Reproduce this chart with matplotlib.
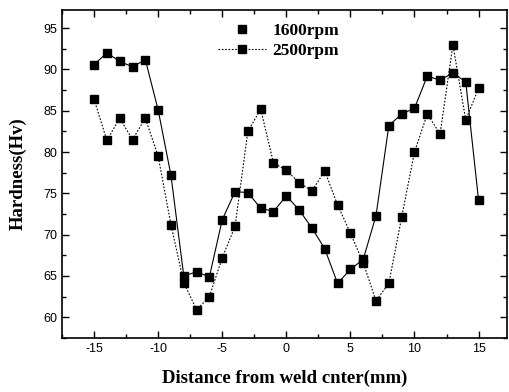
import matplotlib
matplotlib.use("Agg")
import matplotlib.pyplot as plt
from matplotlib.lines import Line2D
from matplotlib.ticker import MultipleLocator

plt.rcParams["axes.unicode_minus"] = False

# distance from weld centre (mm)
distance = list(range(-15, 16))

# hardness (Hv)
hv_1600 = [90.6, 92.0, 91.0, 90.3, 91.2, 85.1, 77.2, 65.0, 65.5, 64.9,
           71.8, 75.2, 75.1, 73.2, 72.8, 74.7, 73.0, 70.8, 68.3, 64.1,
           65.8, 67.0, 72.3, 83.2, 84.6, 85.3, 89.2, 88.7, 89.6, 88.5,
           74.2]
hv_2500 = [86.4, 81.4, 84.1, 81.5, 84.1, 79.5, 71.2, 64.2, 60.9, 62.5,
           67.2, 71.0, 82.5, 85.2, 78.7, 77.8, 76.3, 75.3, 77.7, 73.6,
           70.2, 66.6, 62.0, 64.1, 72.1, 80.0, 84.6, 82.2, 93.0, 83.9,
           87.7]

labels = ["1600rpm", "2500rpm"]

fig = plt.figure(figsize=(5.10, 3.92), dpi=100)
ax = fig.add_axes([0.1216, 0.138, 0.872, 0.8365])

ax.plot(distance, hv_1600, color="black", linewidth=0.8, linestyle="-",
        marker="s", markersize=6.2)
ax.plot(distance, hv_2500, color="black", linewidth=0.8, linestyle=(0, (1.5, 1.5)),
        marker="s", markersize=6.2)

ax.set_xlim(-17.5, 17.2)
ax.set_ylim(57.5, 97.2)
ax.xaxis.set_major_locator(MultipleLocator(5))
ax.xaxis.set_minor_locator(MultipleLocator(2.5))
ax.yaxis.set_major_locator(MultipleLocator(5))
ax.yaxis.set_minor_locator(MultipleLocator(2.5))
ax.tick_params(which="both", direction="in", top=True, right=True,
               labeltop=False, labelright=False, width=1.0)
ax.tick_params(which="major", length=5, labelsize=9)
ax.tick_params(which="minor", length=3)
for lab in ax.get_xticklabels() + ax.get_yticklabels():
    lab.set_family("Liberation Sans")
for sp in ax.spines.values():
    sp.set_linewidth(1.2)

ax.set_xlabel("Distance from weld cnter(mm)", family="Liberation Serif",
              fontweight="bold", fontsize=13.5, labelpad=11)
ax.set_ylabel("Hardness(Hv)", family="Liberation Serif",
              fontweight="bold", fontsize=13.5, labelpad=12)

handles = [
    Line2D([], [], color="black", linestyle="none", marker="s", markersize=6.2),
    Line2D([], [], color="black", linewidth=0.8, linestyle=(0, (1.5, 1.5)),
           marker="s", markersize=6.2),
]
ax.legend(handles, labels, loc="upper left", bbox_to_anchor=(0.315, 1.008),
          frameon=False, handlelength=2.8, handletextpad=0.35, labelspacing=0.2,
          prop={"family": "Liberation Serif", "weight": "bold", "size": 12.5})

fig.savefig("out.png", dpi=100)
